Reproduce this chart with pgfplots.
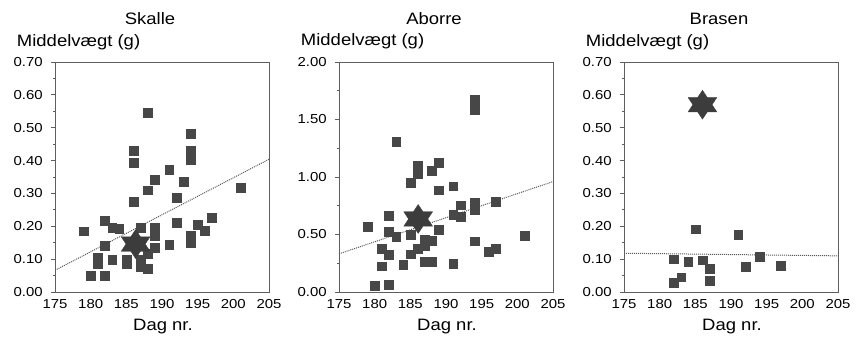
\documentclass[border=0pt]{standalone}
\usepackage{fontspec}
\setmainfont{Liberation Sans}
\usepackage{pgfplots}
\pgfplotsset{compat=1.18}
\definecolor{mk}{HTML}{474747}
\definecolor{st}{HTML}{3C3C3C}
\definecolor{fr}{HTML}{5E5E5E}
\definecolor{tl}{HTML}{5A5A5A}
\pgfdeclareplotmark{hexstar}{%
  \pgfpathmoveto{\pgfpoint{0pt}{\pgfplotmarksize}}%
  \pgfpathlineto{\pgfpoint{-0.9959\pgfplotmarksize}{-0.5\pgfplotmarksize}}%
  \pgfpathlineto{\pgfpoint{0.9959\pgfplotmarksize}{-0.5\pgfplotmarksize}}%
  \pgfpathclose
  \pgfpathmoveto{\pgfpoint{0pt}{-\pgfplotmarksize}}%
  \pgfpathlineto{\pgfpoint{0.9959\pgfplotmarksize}{0.5\pgfplotmarksize}}%
  \pgfpathlineto{\pgfpoint{-0.9959\pgfplotmarksize}{0.5\pgfplotmarksize}}%
  \pgfpathclose
  \pgfusepathqfillstroke}
\pgfplotsset{
  panel/.style={
    width=214pt, height=230pt, scale only axis,
    anchor=south west,
    xmin=175, xmax=205, xtick={175,180,...,205},
    ymin=0,
    axis line style={fr, line width=0.9pt},
    tick pos=left,
    tick align=outside,
    ytick style={fr, line width=0.8pt},
    xtick style={draw=none},
    major tick length=4pt, minor tick length=2.5pt,
    minor y tick num=1,
    /pgf/number format/assume math mode=true,
    every tick label/.append style={font=\fontsize{13}{15}\selectfont, xscale=1.15, text=black},
    xticklabel style={anchor=center, yshift=-8pt},
    yticklabel style={/pgf/number format/fixed, /pgf/number format/fixed zerofill,
      /pgf/number format/precision=2, anchor=east, inner sep=0pt, xshift=-7pt},
    every axis title/.style={at={(rel axis cs:0.5,1)}, anchor=base, xshift=-12pt, yshift=37pt,
      font=\fontsize{16.5}{19}\selectfont, xscale=1.12},
    every axis y label/.style={at={(rel axis cs:0,1)}, anchor=base west, xshift=-42pt, yshift=16pt,
      font=\fontsize{16.5}{19}\selectfont, xscale=1.12},
    every axis x label/.style={at={(rel axis cs:0.5,0)}, anchor=base, xshift=1pt, yshift=-38pt,
      font=\fontsize{16.5}{19}\selectfont, xscale=1.12},
    ylabel={Middelvægt (g)},
    xlabel={Dag nr.},
    clip=false,
  },
  sq/.style={only marks, mark=square*, mark size=4.4pt, mark options={fill=mk, draw=mk, line width=0.3pt}},
  hs/.style={only marks, mark=hexstar, mark size=14.5pt, mark options={fill=st, draw=st, line width=0.3pt}},
  tr/.style={no marks, tl, densely dotted, line width=1pt},
}
\begin{document}
\begin{tikzpicture}
\path[use as bounding box] (0,0) rectangle (861pt,340pt);
% Skalle
\begin{axis}[panel, at={(55pt,48pt)}, title={Skalle}, ymax=0.7, ytick={0,0.1,...,0.7}]
\addplot[tr] coordinates {(175,0.066) (205,0.404)};
\addplot[sq] coordinates {
(179,0.185)(180,0.050)(181,0.106)(181,0.086)(182,0.050)(182,0.217)(182,0.141)
(183,0.197)(183,0.098)(184,0.192)(185,0.086)(185,0.100)(186,0.431)(186,0.394)
(186,0.275)(187,0.197)(187,0.100)(187,0.076)(188,0.545)(188,0.310)(188,0.116)
(188,0.070)(189,0.343)(189,0.196)(189,0.170)(189,0.136)(191,0.372)(191,0.143)
(192,0.288)(192,0.212)(193,0.335)(194,0.482)(194,0.430)(194,0.404)(194,0.172)
(194,0.149)(195,0.205)(196,0.187)(197,0.227)(201,0.318)};
\addplot[hs] coordinates {(186.3,0.146)};
\end{axis}
% Aborre
\begin{axis}[panel, at={(339pt,48pt)}, title={Aborre}, ymax=2, ytick={0,0.5,...,2}]
\addplot[tr] coordinates {(175,0.332) (205,0.960)};
\addplot[sq] coordinates {
(179,0.569)(180,0.055)(181,0.375)(181,0.225)(182,0.664)(182,0.528)(182,0.325)
(182,0.065)(183,1.304)(183,0.483)(184,0.240)(185,0.952)(185,0.500)(185,0.330)
(186,1.100)(186,1.030)(186,0.380)(187,0.452)(187,0.400)(187,0.263)(188,1.053)
(188,0.450)(188,0.263)(189,1.125)(189,0.885)(189,0.540)(191,0.920)(191,0.670)
(191,0.250)(192,0.756)(192,0.655)(194,1.674)(194,1.587)(194,0.775)(194,0.715)
(194,0.443)(196,0.350)(197,0.785)(197,0.375)(201,0.490)};
\addplot[hs] coordinates {(186.1,0.635)};
\end{axis}
% Brasen
\begin{axis}[panel, at={(624pt,48pt)}, title={Brasen}, ymax=0.7, ytick={0,0.1,...,0.7}]
\addplot[tr] coordinates {(175,0.118) (205,0.110)};
\addplot[sq] coordinates {
(182,0.028)(182,0.100)(183,0.045)(184,0.092)(185,0.191)(186,0.097)(187,0.072)
(187,0.034)(191,0.174)(192,0.078)(194,0.108)(197,0.081)};
\addplot[hs] coordinates {(186,0.570)};
\end{axis}
\end{tikzpicture}
\end{document}
